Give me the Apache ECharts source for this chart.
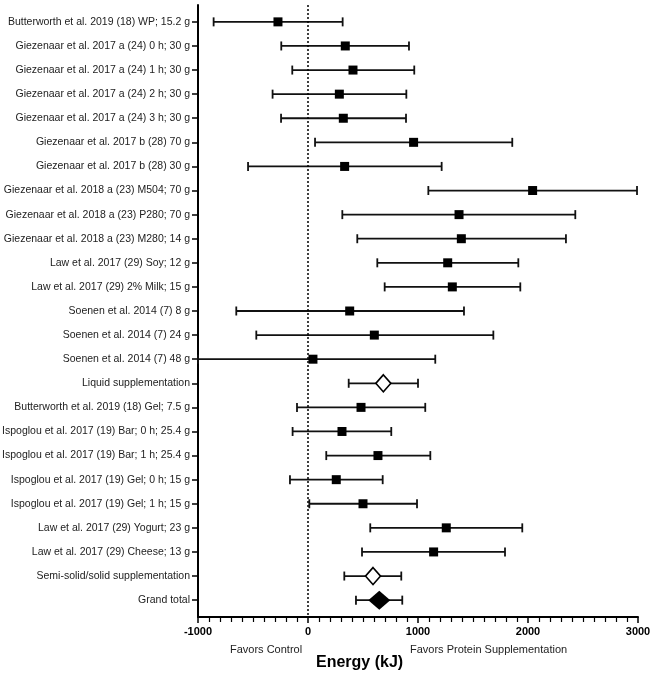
<!DOCTYPE html>
<html>
<head>
<meta charset="utf-8">
<script src="https://cdn.jsdelivr.net/npm/echarts@6/dist/echarts.min.js"></script>
<style>html,body{margin:0;padding:0;background:#fff}#c{width:650px;height:674px}</style>
</head>
<body>
<div id="c"></div>
<script>
const labels = [
  "Butterworth et al. 2019 (18) WP; 15.2 g",
  "Giezenaar et al. 2017 a (24) 0 h; 30 g",
  "Giezenaar et al. 2017 a (24) 1 h; 30 g",
  "Giezenaar et al. 2017 a (24) 2 h; 30 g",
  "Giezenaar et al. 2017 a (24) 3 h; 30 g",
  "Giezenaar et al. 2017 b (28) 70 g",
  "Giezenaar et al. 2017 b (28) 30 g",
  "Giezenaar et al. 2018 a (23) M504; 70 g",
  "Giezenaar et al. 2018 a (23) P280; 70 g",
  "Giezenaar et al. 2018 a (23) M280; 14 g",
  "Law et al. 2017 (29) Soy; 12 g",
  "Law et al. 2017 (29) 2% Milk; 15 g",
  "Soenen et al. 2014 (7) 8 g",
  "Soenen et al. 2014 (7) 24 g",
  "Soenen et al. 2014 (7) 48 g",
  "Liquid supplementation",
  "Butterworth et al. 2019 (18) Gel; 7.5 g",
  "Ispoglou et al. 2017 (19) Bar; 0 h; 25.4 g",
  "Ispoglou et al. 2017 (19) Bar; 1 h; 25.4 g",
  "Ispoglou et al. 2017 (19) Gel; 0 h; 15 g",
  "Ispoglou et al. 2017 (19) Gel; 1 h; 15 g",
  "Law et al. 2017 (29) Yogurt; 23 g",
  "Law et al. 2017 (29) Cheese; 13 g",
  "Semi-solid/solid supplementation",
  "Grand total"
];
const estimates = [-273, 339, 409, 285, 321, 960, 333, 2042, 1373, 1394, 1270, 1312, 379, 603, 45, 685,
  482, 309, 636, 257, 500, 1257, 1142, 591, 648];
const lower = [-858, -243, -143, -322, -245, 64, -545, 1094, 312, 448, 630, 697, -652, -470, -1000, 370,
  -100, -140, 166, -164, 12, 566, 491, 330, 436];
const upper = [315, 918, 966, 894, 891, 1857, 1215, 2991, 2430, 2345, 1912, 1930, 1418, 1685, 1157, 1000,
  1066, 757, 1112, 679, 991, 1948, 1791, 848, 857];
// row type: 's' study, 'sub' subgroup summary, 'tot' grand total
const rowType = ["s","s","s","s","s","s","s","s","s","s","s","s","s","s","s","sub",
  "s","s","s","s","s","s","s","sub","tot"];
const xTicks = [-1000, 0, 1000, 2000, 3000];

const rows = labels.map((_, i) => i);
const errData = rows.map(i => [lower[i], upper[i], i]);
const studyPts = rows.filter(i => rowType[i] === 's').map(i => [estimates[i], i]);
const subPts = rows.filter(i => rowType[i] === 'sub').map(i => [estimates[i], i]);
const totPts = rows.filter(i => rowType[i] === 'tot').map(i => [estimates[i], i]);

const chart = echarts.init(document.getElementById('c'), null, {renderer: 'canvas'});
const FONT = '"Liberation Sans", Arial, Helvetica, sans-serif';
chart.setOption({
  animation: false,
  backgroundColor: '#fff',
  grid: {left: 198, right: 12, top: 5, bottom: 57, containLabel: false, outerBoundsMode: 'none'},
  xAxis: {
    type: 'value', min: xTicks[0], max: xTicks[xTicks.length - 1], interval: 1000,
    axisLine: {show: true, onZero: false, lineStyle: {color: '#000', width: 2}},
    axisTick: {show: true, length: 6, lineStyle: {color: '#000', width: 1.5}},
    minorTick: {show: true, splitNumber: 10, length: 5, lineStyle: {color: '#000', width: 1.2}},
    splitLine: {show: false},
    axisLabel: {color: '#000', fontWeight: 'bold', fontSize: 11, fontFamily: FONT, margin: 9,
      formatter: v => String(v)}
  },
  yAxis: {
    type: 'value', min: -0.7, max: 24.7, inverse: true,
    axisLine: {show: true, onZero: false, lineStyle: {color: '#000', width: 2}},
    axisTick: {show: true, length: 6, customValues: rows, lineStyle: {color: '#000', width: 1.5}},
    splitLine: {show: false},
    axisLabel: {customValues: rows, formatter: v => labels[Math.round(v)] || '',
      color: '#222', fontSize: 10.5, fontFamily: FONT, margin: 8}
  },
  series: [
    {
      type: 'custom',
      data: errData,
      encode: {x: [0, 1], y: 2},
      clip: false,
      renderItem: function (params, api) {
        const y = api.value(2);
        const a = api.coord([api.value(0), y]);
        const b = api.coord([api.value(1), y]);
        const h = 4.5;
        const st = {stroke: '#111', lineWidth: 1.8};
        return {
          type: 'group',
          children: [
            {type: 'line', shape: {x1: a[0], y1: a[1], x2: b[0], y2: b[1]}, style: st},
            {type: 'line', shape: {x1: a[0], y1: a[1] - h, x2: a[0], y2: a[1] + h}, style: st},
            {type: 'line', shape: {x1: b[0], y1: b[1] - h, x2: b[0], y2: b[1] + h}, style: st}
          ]
        };
      },
      markLine: {
        silent: true, symbol: 'none', label: {show: false},
        lineStyle: {color: '#000', type: [2, 2], width: 1.5},
        data: [{xAxis: 0}]
      },
      z: 2
    },
    {
      type: 'scatter', data: studyPts, symbol: 'rect', symbolSize: 9,
      itemStyle: {color: '#000', opacity: 1}, z: 3
    },
    {
      type: 'scatter', data: subPts, symbol: 'diamond', symbolSize: [15, 17],
      itemStyle: {color: '#fff', borderColor: '#000', borderWidth: 1.6, opacity: 1}, z: 3
    },
    {
      type: 'scatter', data: totPts, symbol: 'diamond', symbolSize: [22, 19],
      itemStyle: {color: '#000', opacity: 1}, z: 3
    }
  ],
  graphic: [
    {type: 'text', left: 230, top: 644, style: {text: 'Favors Control', fill: '#222', font: '11px ' + FONT}},
    {type: 'text', left: 410, top: 644, style: {text: 'Favors Protein Supplementation', fill: '#222', font: '11px ' + FONT}},
    {type: 'text', left: 316, top: 655, style: {text: 'Energy (kJ)', fill: '#000', font: 'bold 16px ' + FONT}}
  ]
});
</script>
</body>
</html>
